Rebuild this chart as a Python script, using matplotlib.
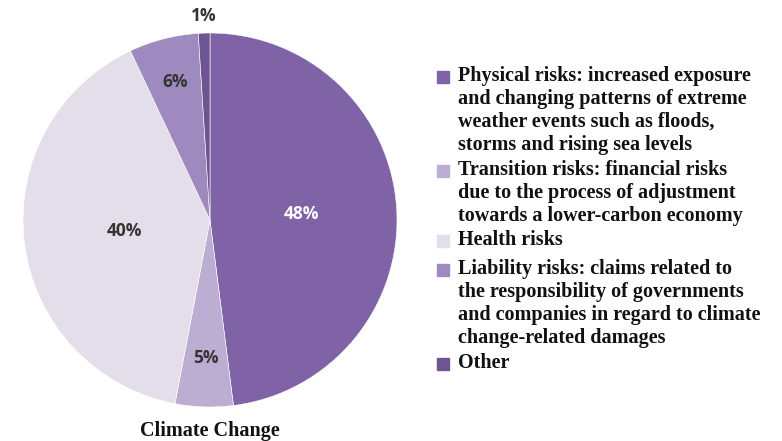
import numpy as np
import matplotlib.pyplot as plt
from matplotlib.patches import Rectangle

# donnees
categories = [
    "Physical risks: increased exposure\nand changing patterns of extreme\nweather events such as floods,\nstorms and rising sea levels",
    "Transition risks: financial risks\ndue to the process of adjustment\ntowards a lower-carbon economy",
    "Health risks",
    "Liability risks: claims related to\nthe responsibility of governments\nand companies in regard to climate\nchange-related damages",
    "Other",
]
values = [48, 5, 40, 6, 1]
pct_labels = ["48%", "5%", "40%", "6%", "1%"]
colors = ["#7f63a6", "#bcadd3", "#e4deeb", "#9e8abe", "#6e5490"]
label_colors = ["white", "#333333", "#333333", "#333333", "#333333"]
label_dist = [0.49, 0.74, 0.46, 0.76, 1.09]

W, H = 782, 441
fig = plt.figure(figsize=(W / 100, H / 100), dpi=100)

# axe du camembert
cx, cy, r = 210, 220, 187
ax = fig.add_axes([(cx - r) / W, (H - cy - r) / H, 2 * r / W, 2 * r / H])
wedges, _ = ax.pie(values, colors=colors, startangle=90, counterclock=False,
                   radius=1.0, wedgeprops=dict(edgecolor="white", linewidth=0.4))
ax.set_xlim(-1, 1)
ax.set_ylim(-1, 1)
ax.set_aspect("equal")
ax.axis("off")

for w, lab, col, d in zip(wedges, pct_labels, label_colors, label_dist):
    ang = np.deg2rad((w.theta1 + w.theta2) / 2)
    ax.text(d * np.cos(ang), d * np.sin(ang), lab, ha="center", va="center",
            color=col, fontsize=12.5, fontweight="bold", family="Open Sans",
            clip_on=False)

# titre sous le camembert
fig.text(cx / W, 1 - 431 / H, "Climate Change", ha="center", va="center",
         fontsize=14.5, fontweight="bold", family="Liberation Serif", color="#111111")

# legende manuelle
y_first = [77, 171, 241, 270, 364]
for cat, col, y in zip(categories, colors, y_first):
    fig.patches.append(Rectangle((437 / W, 1 - (y + 6) / H), 12 / W, 12 / H,
                                 transform=fig.transFigure, color=col))
    fig.text(458 / W, 1 - (y - 11) / H, cat, ha="left", va="top",
             fontsize=14.5, fontweight="bold", family="Liberation Serif",
             color="#111111", linespacing=1.19)

fig.savefig("out.png", dpi=100)
